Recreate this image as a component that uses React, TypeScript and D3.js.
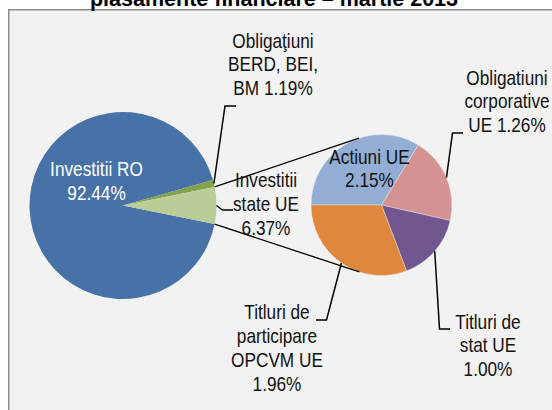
import React from "react";
import * as d3 from "d3";

// primary pie
const mainNames = ["Investitii RO", "Obligaţiuni BERD, BEI, BM", "Investitii state UE"];
const mainValues = [92.44, 1.19, 6.37];
const mainColors = ["#4672a7", "#83a14c", "#bacd96"];
// which slice of the primary pie is broken out into the second pie
const otherIndex = 2;

// secondary pie (split of "Investitii state UE")
const subNames = ["Actiuni UE", "Obligatiuni corporative UE", "Titluri de stat UE", "Titluri de participare OPCVM UE"];
const subValues = [2.15, 1.26, 1.0, 1.96];
const subColors = ["#93aed4", "#d49392", "#715690", "#df873c"];

// label lines, {v} is replaced by the value
const mainLabelLines = [["Investitii RO", "{v}"], ["Obligaţiuni", "BERD, BEI,", "BM {v}"], ["Investitii", "state UE", "{v}"]];
const subLabelLines = [["Actiuni UE", "{v}"], ["Obligatiuni", "corporative", "UE {v}"], ["Titluri de", "stat UE", "{v}"], ["Titluri de", "participare", "OPCVM UE", "{v}"]];

const title = "plasamente financiare – martie 2013";

const W = 552, H = 410;
// no Arial Narrow installed: squeeze Liberation Sans instead
const font = "'Liberation Sans', Arial, sans-serif";
const narrow = 0.82;
const fs = 21, lh = 24;

const main = { cx: 123, cy: 205.5, r: 93.5 };
const sub = { cx: 381.5, cy: 205, r: 70.5 };

// label placement: anchor = centre x / first baseline, elbow = leader line bend points
const mainLabelPos = [
  { x: 96.5, y: 176, color: "#fff" },
  { x: 273, y: 47.5, color: "#111", elbow: [[225, 106], [236, 106]] },
  { x: 266, y: 187, color: "#111", elbow: [[222.5, 210], [233, 210]] },
];
const subLabelPos = [
  { x: 369.5, y: 163.5, color: "#111" },
  { x: 507, y: 84.5, color: "#111", elbow: [[452.5, 133], [463, 133]] },
  { x: 488, y: 328.5, color: "#111", elbow: [[439.5, 329], [450, 329]] },
  { x: 277, y: 319, color: "#111", elbow: [[326.5, 320], [316, 320]] },
];

const fmt = (v: number) => v.toFixed(2) + "%";
const onArc = (c: { cx: number; cy: number; r: number }, a: number): [number, number] => [
  c.cx + c.r * Math.sin(a),
  c.cy - c.r * Math.cos(a),
];

function tangent(p: [number, number], c: { cx: number; cy: number; r: number }, upper: boolean): [number, number] {
  const dx = p[0] - c.cx, dy = p[1] - c.cy;
  const d = Math.hypot(dx, dy);
  const th = Math.atan2(dy, dx);
  const al = Math.acos(c.r / d);
  const a1 = th + al, a2 = th - al;
  const t1: [number, number] = [c.cx + c.r * Math.cos(a1), c.cy + c.r * Math.sin(a1)];
  const t2: [number, number] = [c.cx + c.r * Math.cos(a2), c.cy + c.r * Math.sin(a2)];
  return upper ? (t1[1] < t2[1] ? t1 : t2) : (t1[1] < t2[1] ? t2 : t1);
}

function Label({ lines, value, x, y, color }: { lines: string[]; value: number; x: number; y: number; color: string }) {
  return (
    <g transform={`translate(${x},${y}) scale(${narrow},1)`}>
      <text x={0} y={0} textAnchor="middle" fontFamily={font} fontSize={fs} fill={color}>
        {lines.map((l, i) => (
          <tspan key={i} x={0} dy={i === 0 ? 0 : lh}>
            {l.replace("{v}", fmt(value))}
          </tspan>
        ))}
      </text>
    </g>
  );
}

export default function App() {
  const total = d3.sum(mainValues);
  const before = d3.sum(mainValues.slice(0, otherIndex));
  // rotate so the broken-out slice faces the second pie
  const start = Math.PI / 2 - (2 * Math.PI * (before + mainValues[otherIndex] / 2)) / total;
  const mainArcs = d3.pie<number>().sort(null).startAngle(start).endAngle(start + 2 * Math.PI)(mainValues);
  const subArcs = d3.pie<number>().sort(null).startAngle(-Math.PI / 2).endAngle(1.5 * Math.PI)(subValues);

  const mainArc = d3.arc<d3.PieArcDatum<number>>().innerRadius(0).outerRadius(main.r);
  const subArc = d3.arc<d3.PieArcDatum<number>>().innerRadius(0).outerRadius(sub.r);

  const other = mainArcs[otherIndex];
  const pTop = onArc(main, other.startAngle);
  const pBot = onArc(main, other.endAngle);
  const tTop = tangent(pTop, sub, true);
  const tBot = tangent(pBot, sub, false);

  const line = d3.line();

  return (
    <svg width={W} height={H} style={{ position: "absolute", left: 0, top: 0 }}>
      <rect x={8.75} y={9.75} width={W + 20} height={H + 20} fill="#f2f2f2" stroke="#8c8c8c" strokeWidth={1.5} />
      <text x={274} y={5.5} textAnchor="middle" fontFamily={font} fontWeight="bold" fontSize={21.5} fill="#000">
        {title}
      </text>

      <g transform={`translate(${main.cx},${main.cy})`}>
        {mainArcs.map((a, i) => (
          <path key={i} d={mainArc(a) || ""} fill={mainColors[i]} />
        ))}
      </g>
      <g transform={`translate(${sub.cx},${sub.cy})`}>
        {subArcs.map((a, i) => (
          <path key={i} d={subArc(a) || ""} fill={subColors[i]} stroke="#f2f2f2" strokeWidth={0.4} />
        ))}
      </g>

      <path d={line([pTop, tTop]) || ""} stroke="#000" strokeWidth={1.3} fill="none" />
      <path d={line([pBot, tBot]) || ""} stroke="#000" strokeWidth={1.3} fill="none" />

      {mainArcs.map((a, i) => {
        const pos = mainLabelPos[i];
        if (!pos.elbow) return null;
        const p0 = onArc(main, (a.startAngle + a.endAngle) / 2);
        return <path key={i} d={line([p0, ...(pos.elbow as [number, number][])]) || ""} stroke="#000" strokeWidth={1.5} fill="none" />;
      })}
      {subArcs.map((a, i) => {
        const pos = subLabelPos[i];
        if (!pos.elbow) return null;
        const p0 = onArc(sub, (a.startAngle + a.endAngle) / 2);
        return <path key={i} d={line([p0, ...(pos.elbow as [number, number][])]) || ""} stroke="#000" strokeWidth={1.5} fill="none" />;
      })}

      {mainValues.map((v, i) => (
        <Label key={"m" + i} lines={mainLabelLines[i]} value={v} x={mainLabelPos[i].x} y={mainLabelPos[i].y} color={mainLabelPos[i].color} />
      ))}
      {subValues.map((v, i) => (
        <Label key={"s" + i} lines={subLabelLines[i]} value={v} x={subLabelPos[i].x} y={subLabelPos[i].y} color={subLabelPos[i].color} />
      ))}
    </svg>
  );
}
